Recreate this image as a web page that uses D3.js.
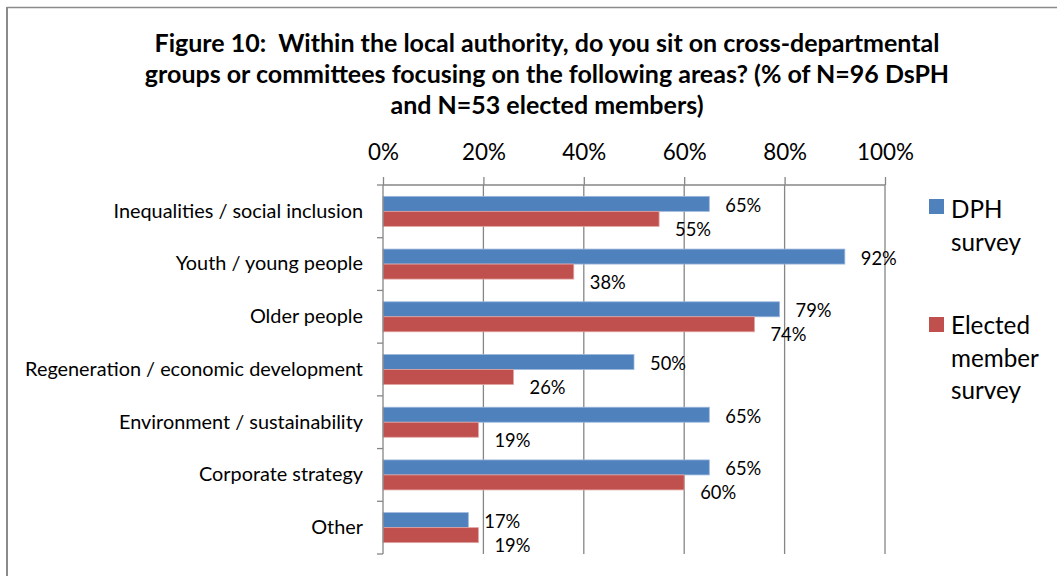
<!DOCTYPE html>
<html>
<head>
<meta charset="utf-8">
<script src="https://cdn.jsdelivr.net/npm/d3@7"></script>
<style>
  html, body { margin: 0; padding: 0; background: #fff; }
  svg { display: block; font-family: Lato, "Open Sans", sans-serif; }
  text { white-space: pre; }
</style>
</head>
<body>
<svg id="chart" width="1057" height="576"></svg>
<script>
const titleLines = [
  "Figure 10:  Within the local authority, do you sit on cross-departmental",
  "groups or committees focusing on the following areas? (% of N=96 DsPH",
  "and N=53 elected members)"
];
const categories = [
  "Inequalities / social inclusion",
  "Youth / young people",
  "Older people",
  "Regeneration / economic development",
  "Environment / sustainability",
  "Corporate strategy",
  "Other"
];
const dphValues = [65, 92, 79, 50, 65, 65, 17];
const electedValues = [55, 38, 74, 26, 19, 60, 19];
const tickValues = [0, 20, 40, 60, 80, 100];
const seriesNames = [["DPH", "survey"], ["Elected", "member", "survey"]];
const colors = ["#4F81BD", "#C0504D"];
const borders = ["#9DB8DC", "#E0A3A1"];

const svg = d3.select("#chart");
const W = 1057, H = 576;

function fitFont(sel, target) {
  const node = sel.node();
  const fs = parseFloat(sel.attr("font-size"));
  const w = node.getComputedTextLength();
  return fs * target / w;
}

// Frame
svg.append("line").attr("x1", 7).attr("x2", W).attr("y1", 7.5).attr("y2", 7.5)
  .attr("stroke", "#8a8a8a").attr("stroke-width", 1.5);
svg.append("line").attr("x1", 7).attr("x2", 7).attr("y1", 7).attr("y2", H)
  .attr("stroke", "#8a8a8a").attr("stroke-width", 2);

// Title
const titleY = [42, 73, 104];
const tg = svg.append("g");
const tLines = tg.selectAll("text").data(titleLines).join("text")
  .attr("x", 547).attr("y", (d, i) => titleY[i])
  .attr("text-anchor", "middle").attr("dominant-baseline", "central")
  .attr("font-weight", "bold").attr("font-size", 22).attr("fill", "#000")
  .text(d => d);
const tfs = fitFont(tLines.filter((d, i) => i === 0), 785);
tLines.attr("font-size", tfs);

// Scales
const x = d3.scaleLinear().domain([0, 100]).range([383, 885]);
const y = d3.scaleBand().domain(categories).range([185, 554]);
const inner = d3.scaleBand().domain([0, 1]).range([0, y.bandwidth()]).paddingInner(0).paddingOuter(0.757);

// Top axis
const topAxis = d3.axisTop(x).tickValues(tickValues).tickFormat(d => d + "%")
  .tickSize(8).tickPadding(14);
const gTop = svg.append("g").attr("transform", "translate(0,185)").call(topAxis);
gTop.select(".domain").attr("stroke", "#868686").attr("stroke-width", 1.3)
  .attr("d", `M${x(0)},0H${x(100)}`);
gTop.selectAll(".tick line").attr("stroke", "#868686").attr("stroke-width", 1.3)
  .attr("y1", 0).attr("y2", -8);
gTop.selectAll(".tick text").attr("font-size", 25).attr("fill", "#000")
  .attr("font-family", "Lato, 'Open Sans', sans-serif");
{
  const last = gTop.selectAll(".tick text").filter(d => d === 100);
  const f = fitFont(last, 57);
  gTop.selectAll(".tick text").attr("font-size", f);
}
gTop.selectAll(".tick text").attr("y", -34).attr("dy", "0").attr("dominant-baseline", "central");

// Gridlines
svg.append("g").selectAll("line").data(tickValues.slice(1)).join("line")
  .attr("x1", d => x(d)).attr("x2", d => x(d))
  .attr("y1", 185).attr("y2", 554)
  .attr("stroke", "#868686").attr("stroke-width", 1.3);

// Bars
const series = [dphValues, electedValues];
series.forEach((vals, si) => {
  svg.append("g").selectAll("rect").data(categories).join("rect")
    .attr("x", x(0))
    .attr("y", d => y(d) + inner(si))
    .attr("width", (d, i) => x(vals[i]) - x(0))
    .attr("height", inner.bandwidth())
    .attr("fill", colors[si])
    .attr("stroke", borders[si]).attr("stroke-width", 0.8);
});

// Left axis
const leftAxis = d3.axisLeft(y).tickSize(0).tickPadding(20);
const gLeft = svg.append("g").attr("transform", `translate(${x(0)},0)`).call(leftAxis);
gLeft.select(".domain").attr("stroke", "#868686").attr("stroke-width", 1.3)
  .attr("d", `M0,185V554`);
gLeft.selectAll(".tick text").attr("font-size", 20).attr("fill", "#000")
  .attr("font-family", "Lato, 'Open Sans', sans-serif").attr("x", -20);
{
  const longest = gLeft.selectAll(".tick text").filter(d => d === categories[3]);
  const f = fitFont(longest, 338);
  gLeft.selectAll(".tick text").attr("font-size", f);
}
const bounds = y.domain().map(d => y(d)).concat([554]);
svg.append("g").selectAll("line").data(bounds).join("line")
  .attr("x1", x(0) - 6).attr("x2", x(0))
  .attr("y1", d => d).attr("y2", d => d)
  .attr("stroke", "#868686").attr("stroke-width", 1.3);

// Value labels
series.forEach((vals, si) => {
  const lab = svg.append("g").selectAll("text").data(categories).join("text")
    .attr("x", (d, i) => x(vals[i]) + 16)
    .attr("y", (d, i) => y(d) + inner(si) + inner.bandwidth() / 2 + (si === 0 ? 1 : 10))
    .attr("dominant-baseline", "central")
    .attr("font-size", 21).attr("fill", "#000")
    .text((d, i) => vals[i] + "%");
  const f = fitFont(lab.filter((d, i) => i === 0), 36);
  lab.attr("font-size", f);
});

// Legend
const legendY = [[208, 241], [324, 357, 389]];
const legendSq = [199, 317];
let legFont = 22;
const legTexts = [];
seriesNames.forEach((lines, si) => {
  const g = svg.append("g");
  g.append("rect").attr("x", 929).attr("y", legendSq[si]).attr("width", 15).attr("height", 15)
    .attr("fill", colors[si]);
  const t = g.selectAll("text").data(lines).join("text")
    .attr("x", 951).attr("y", (d, i) => legendY[si][i])
    .attr("dominant-baseline", "central")
    .attr("font-size", 22).attr("fill", "#000")
    .text(d => d);
  legTexts.push(t);
  if (si === 1) legFont = fitFont(t.filter((d, i) => i === 0), 79);
});
legTexts.forEach(t => t.attr("font-size", legFont));
</script>
</body>
</html>
